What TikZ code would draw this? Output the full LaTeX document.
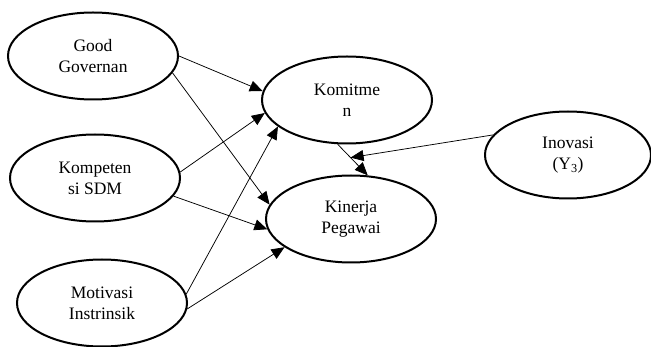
\documentclass[tikz,border=0pt]{standalone}
\usepackage{fontspec}
\setmainfont{Liberation Serif}
\usetikzlibrary{shapes.geometric,arrows.meta}
\begin{document}
\begin{tikzpicture}[x=1pt,y=-1pt,
  var/.style={ellipse,draw,line width=2pt,minimum width=170pt,minimum height=87pt,inner sep=0pt,align=center,font=\fontsize{17.5}{21}\selectfont},
  arr/.style={line width=0.75pt,-{Triangle[length=13pt,width=11pt]}}]
\useasboundingbox (0,0) rectangle (651,347);
\node[var] (good) at (93,56) {Good\\Governan};
\node[var] (komp) at (95,178) {Kompeten\\si SDM};
\node[var] (moti) at (102,303) {Motivasi\\Instrinsik};
\node[var] (komi) at (347,100) {Komitme\\n};
\node[var] (kine) at (351,219) {Kinerja\\Pegawai};
\node[var,minimum width=166pt] (inov) at (568,155) {Inovasi\\(Y\textsubscript{3})};
\draw[arr] (good.east) -- (komi.174);
\draw[arr] (good.-12) -- (kine.170);
\draw[arr] (komp.4) -- (komi.-171);
\draw[arr] (komp.-13.5) -- (kine.-173);
\draw[arr] (moti.6.7) -- (komi.-159);
\draw[arr] (moti.-4) -- (kine.-157);
\draw[arr] (komi.-102.5) -- coordinate[pos=0.43] (mod) (kine.69.6);
\draw[arr] (inov.165) -- (mod);
\end{tikzpicture}
\end{document}
